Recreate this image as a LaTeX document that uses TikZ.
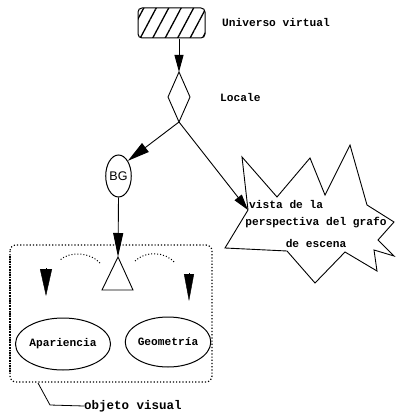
\documentclass[tikz,border=0pt]{standalone}
\usepackage{fontspec}
\setmainfont{Liberation Mono}
\setsansfont{Liberation Sans}
\usetikzlibrary{arrows.meta,patterns.meta,shapes.geometric}
\tikzset{
  lbl/.style={font=\fontsize{11.2}{13}\selectfont\bfseries, inner sep=0pt},
  ln/.style={line width=0.9pt},
  ovalbox/.style={draw, ellipse, line width=1pt, inner sep=0pt},
  dotbox/.style={dotted, line width=1.2pt},
}
\begin{document}
\begin{tikzpicture}[x=1pt,y=-1pt]
\useasboundingbox (0,0) rectangle (396,419);
% Universo virtual
\node[draw, line width=1pt, rounded corners=4pt, minimum width=67pt, minimum height=30pt,
      pattern={Lines[angle=62,distance=11pt,line width=1.3pt]}] (uv) at (171.5,23) {};
\node[lbl, anchor=west] (uvt) at (222,23) {Universo virtual};
% Locale diamond
\coordinate (dt) at (179,72);
\coordinate (dl) at (168,97);
\coordinate (dr) at (190,97);
\coordinate (db) at (179,122);
\draw[ln] (dt) -- (dr) -- (db) -- (dl) -- cycle;
\node[lbl, anchor=west] (loc) at (220,97) {Locale};
\draw[ln, -{Triangle[length=17pt,width=9pt]}] (uv.south -| dt) -- (dt);
% BG
\node[ovalbox, minimum width=24pt, minimum height=42pt, font=\sffamily\fontsize{12.5}{13}\selectfont] (bg) at (118.5,176) {BG};
\draw[ln, -{Triangle[length=22pt,width=11pt]}] (db) -- (bg.north east);
% Star
\coordinate (s1) at (242,157);
\coordinate (s2) at (277,197);
\coordinate (s3) at (310,158);
\coordinate (s4) at (325,195);
\coordinate (s5) at (350,145);
\coordinate (s6) at (367,205);
\coordinate (s7) at (394,222);
\coordinate (s8) at (378,240);
\coordinate (s9) at (394,256);
\coordinate (s10) at (374,250);
\coordinate (s11) at (377,271);
\coordinate (s12) at (345,252);
\coordinate (s13) at (315,283);
\coordinate (s14) at (287,251);
\coordinate (s15) at (225,248);
\coordinate (s16) at (248,210);
\draw[ln] (s1) -- (s2) -- (s3) -- (s4) -- (s5) -- (s6) -- (s7) -- (s8) -- (s9) -- (s10) -- (s11) -- (s12) -- (s13) -- (s14) -- (s15) -- (s16) -- cycle;
\node[lbl, anchor=west] (st1) at (249,204) {vista de la};
\node[lbl] (st2) at (316,223) {perspectiva del grafo};
\node[lbl] (st3) at (316,243) {de escena};
\draw[ln, -{Triangle[length=16pt,width=9pt]}] (db) -- (s16);
% triangle
\coordinate (ta) at (118,257);
\coordinate (tl) at (102,290);
\coordinate (tr) at (133,290);
\draw[ln] (ta) -- (tr) -- (tl) -- cycle;
\draw[ln, -{Triangle[length=24pt,width=10pt]}] (bg.south) -- (ta);
% dotted arcs
\coordinate (la) at (100,263);
\coordinate (lb) at (60,260);
\coordinate (ra) at (135,261);
\coordinate (rb) at (175,263);
\draw[dotted, line width=1pt] (la) .. controls (90,252) and (70,251) .. (lb);
\draw[dotted, line width=1pt] (ra) .. controls (145,251) and (165,251) .. (rb);
% free arrowheads
\coordinate (lh1) at (46,268);
\coordinate (lh2) at (46,296);
\coordinate (rh1) at (189,273);
\coordinate (rh2) at (189,301);
\draw[-{Triangle[length=27pt,width=12pt]}] (lh1) -- (lh2);
\draw[-{Triangle[length=27pt,width=10pt]}] (rh1) -- (rh2);
% ellipses
\node[ovalbox, minimum width=80pt, minimum height=52pt, lbl] (ap) at (63,344) {Apariencia};
\node[ovalbox, minimum width=79pt, minimum height=50pt, lbl] (ge) at (168,342) {Geometría};
% dotted box
\coordinate (bx1) at (10,245);
\coordinate (bx2) at (212,382);
\draw[dotbox, rounded corners=6pt] (bx1) rectangle (bx2);
\draw[densely dotted, line width=1.6pt] (bx1 |- 0,256) -- (bx1 |- 0,372);
% objeto visual
\coordinate (o1) at (38,383);
\coordinate (o2) at (50,405);
\node[lbl, anchor=west, font=\fontsize{12.5}{14}\selectfont\bfseries] (ov) at (84,406) {objeto visual};
\draw[line width=0.8pt] (o1) -- (o2) -- (ov.west);
\end{tikzpicture}
\end{document}
